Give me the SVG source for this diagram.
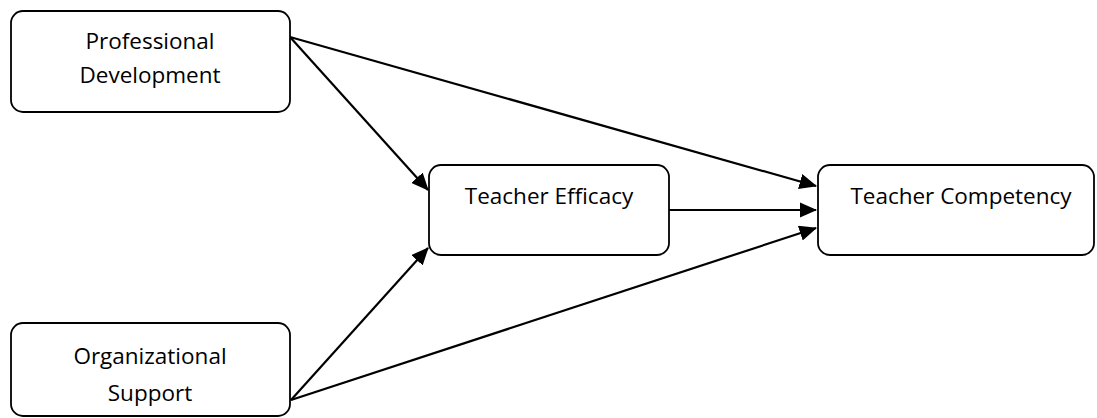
<svg xmlns="http://www.w3.org/2000/svg" width="1097" height="418" viewBox="0 0 1097 418">
<style>
.box{fill:#fff;stroke:#000;stroke-width:1.8}
.lbl{font-family:"Open Sans","Liberation Sans",sans-serif;font-size:22.5px;fill:#000;text-anchor:middle}
.conn{stroke:#000;stroke-width:2.2;fill:none;marker-end:url(#ah)}
</style>
<defs>
<marker id="ah" markerWidth="8" markerHeight="7" refX="7.5" refY="3.5" orient="auto" markerUnits="strokeWidth">
<path d="M0,0 L8,3.5 L0,7 Z" fill="#000"/>
</marker>
</defs>
<rect width="1097" height="418" fill="#fff"/>
<g id="connectors">
<line class="conn" x1="290" y1="37" x2="816" y2="186"/>
<line class="conn" x1="290" y1="37" x2="428" y2="190"/>
<line class="conn" x1="669" y1="210" x2="816" y2="210"/>
<line class="conn" x1="291" y1="400" x2="428" y2="248"/>
<line class="conn" x1="291" y1="400" x2="816" y2="228"/>
</g>
<g id="pd">
<rect class="box" x="11" y="11" width="279" height="101" rx="12"/>
<text class="lbl" x="150" y="49">Professional</text>
<text class="lbl" x="150" y="83">Development</text>
</g>
<g id="te">
<rect class="box" x="429" y="165" width="240" height="90" rx="12"/>
<text class="lbl" x="549" y="204">Teacher Efficacy</text>
</g>
<g id="tc">
<rect class="box" x="818" y="165" width="276" height="90" rx="12"/>
<text class="lbl" x="961" y="204">Teacher Competency</text>
</g>
<g id="os">
<rect class="box" x="11" y="323" width="279" height="93" rx="12"/>
<text class="lbl" x="150" y="364">Organizational</text>
<text class="lbl" x="150" y="401">Support</text>
</g>
</svg>
